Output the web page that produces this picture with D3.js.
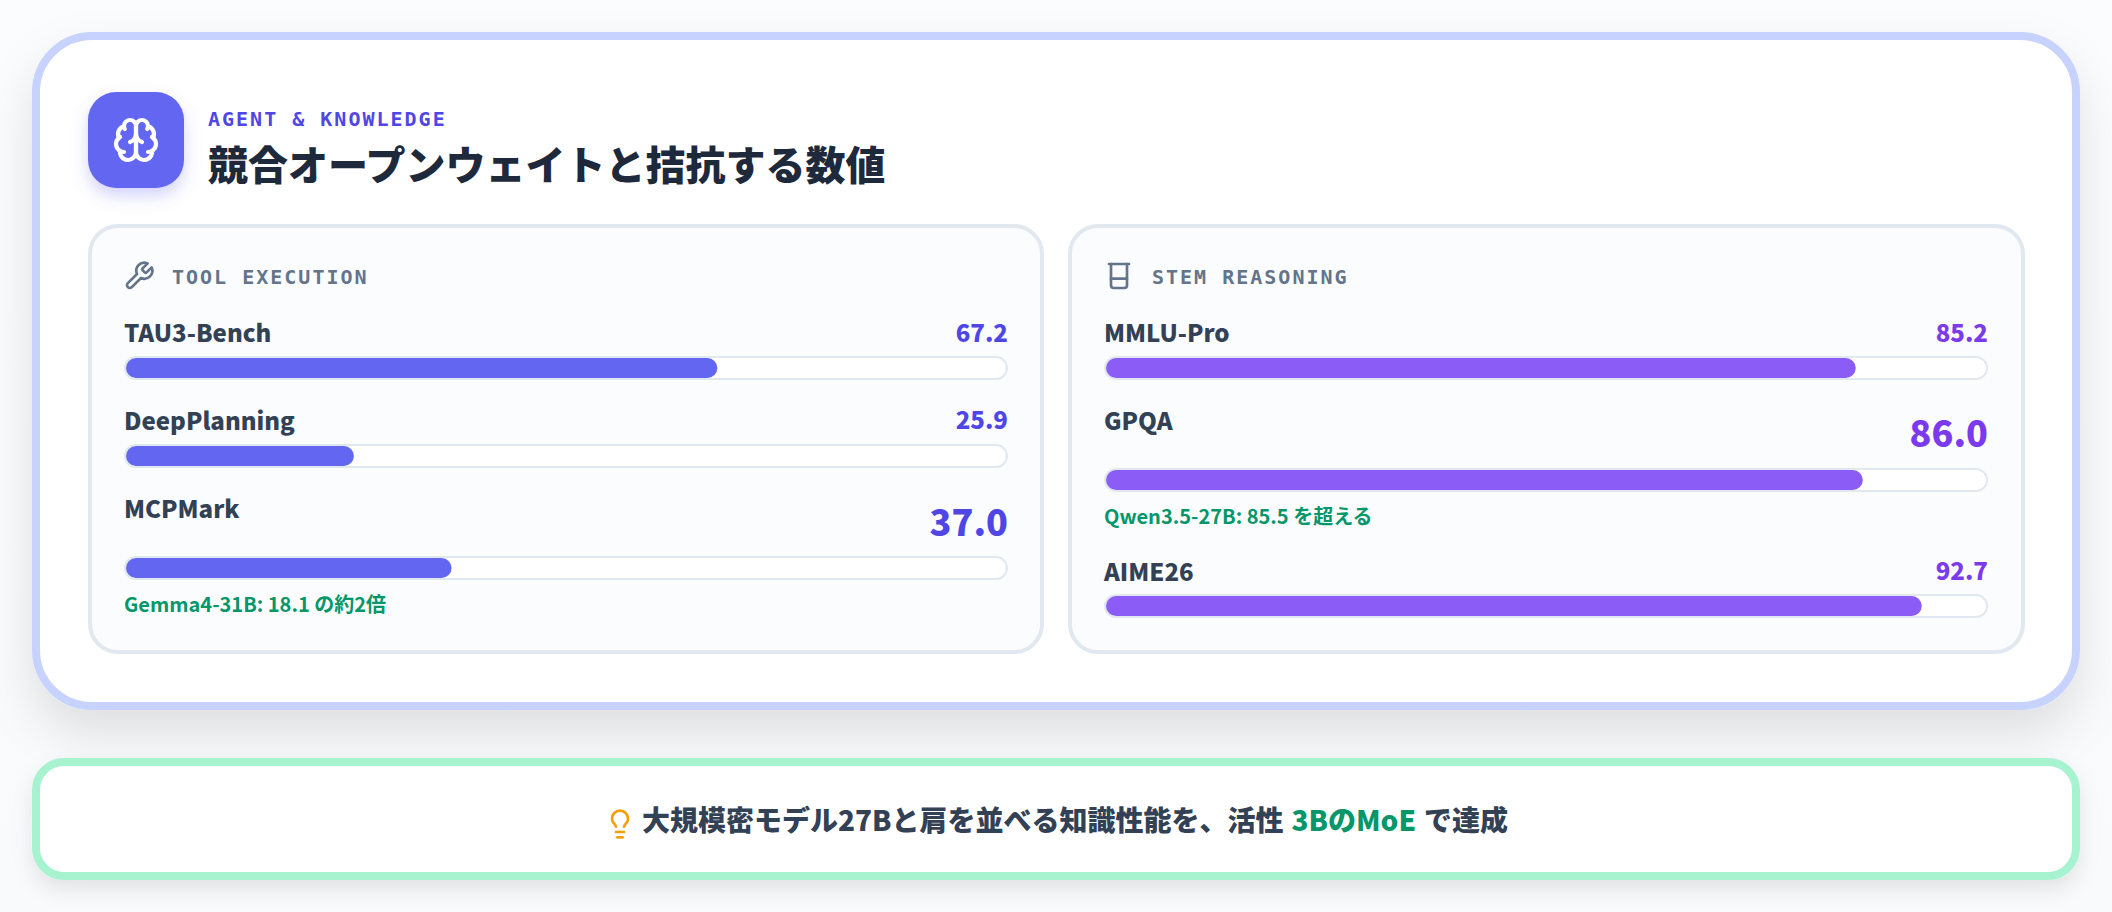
<!DOCTYPE html>
<html lang="ja">
<head>
<meta charset="utf-8">
<title>競合オープンウェイトと拮抗する数値</title>
<script src="https://cdn.jsdelivr.net/npm/d3@7/dist/d3.min.js"></script>
<style>
  html, body { margin: 0; padding: 0; background: #f8fafc; }
  svg { display: block; }
  text { font-family: "Noto Sans CJK JP", "Noto Sans", sans-serif; }
  .mono { font-family: "DejaVu Sans Mono", "Liberation Mono", monospace; font-weight: 700; letter-spacing: 2px; }
</style>
</head>
<body>
<div id="chart"></div>
<script>
// Benchmark scores per panel
const toolLabels = ["TAU3-Bench", "DeepPlanning", "MCPMark"];
const toolValues = [67.2, 25.9, 37.0];
const stemLabels = ["MMLU-Pro", "GPQA", "AIME26"];
const stemValues = [85.2, 86.0, 92.7];
const toolNotes = ["", "", "Gemma4-31B: 18.1 の約2倍"];
const stemNotes = ["", "Qwen3.5-27B: 85.5 を超える", ""];
const toolHighlight = [false, false, true];
const stemHighlight = [false, true, false];

const W = 2112, H = 912;
const svg = d3.select("#chart").append("svg").attr("width", W).attr("height", H);
const defs = svg.append("defs");

const bg = defs.append("linearGradient").attr("id", "bg").attr("x1", 0).attr("y1", 0).attr("x2", 0).attr("y2", 1);
bg.append("stop").attr("offset", 0).attr("stop-color", "#fbfcfe");
bg.append("stop").attr("offset", 1).attr("stop-color", "#f8fafc");
svg.append("rect").attr("width", W).attr("height", H).attr("fill", "url(#bg)");

function shadow(id, dy, blur, color, opacity) {
  const f = defs.append("filter").attr("id", id)
    .attr("x", "-20%").attr("y", "-30%").attr("width", "140%").attr("height", "170%");
  f.append("feDropShadow").attr("dx", 0).attr("dy", dy).attr("stdDeviation", blur)
    .attr("flood-color", color).attr("flood-opacity", opacity);
}
shadow("cardShadow", 24, 24, "#000", 0.11);
shadow("tipShadow", 10, 10, "#000", 0.09);
shadow("iconShadow", 8, 8, "#6366f1", 0.28);

// Outer cards
svg.append("rect").attr("x", 36).attr("y", 36).attr("width", 2040).attr("height", 670).attr("rx", 56)
  .attr("fill", "#fff").attr("stroke", "#c7d2fe").attr("stroke-width", 8).attr("filter", "url(#cardShadow)");
svg.append("rect").attr("x", 36).attr("y", 762).attr("width", 2040).attr("height", 114).attr("rx", 28)
  .attr("fill", "#fff").attr("stroke", "#a7f3d0").attr("stroke-width", 8).attr("filter", "url(#tipShadow)");

function icon(parent, paths, x, y, size, color, sw) {
  const g = parent.append("g").attr("transform", `translate(${x},${y}) scale(${size / 24})`)
    .attr("fill", "none").attr("stroke", color).attr("stroke-width", sw)
    .attr("stroke-linecap", "round").attr("stroke-linejoin", "round");
  paths.forEach(d => g.append("path").attr("d", d));
}

const brainPaths = [
  "M12 5a3 3 0 1 0-5.997.125 4 4 0 0 0-2.526 5.77 4 4 0 0 0 .556 6.588A4 4 0 1 0 12 18Z",
  "M12 5a3 3 0 1 1 5.997.125 4 4 0 0 1 2.526 5.77 4 4 0 0 1-.556 6.588A4 4 0 1 1 12 18Z",
  "M15 13a4.5 4.5 0 0 1-3-4 4.5 4.5 0 0 1-3 4",
  "M17.599 6.5a3 3 0 0 0 .399-1.375", "M6.003 5.125A3 3 0 0 0 6.401 6.5",
  "M3.477 10.896a4 4 0 0 1 .585-.396", "M19.938 10.5a4 4 0 0 1 .585.396",
  "M6 18a4 4 0 0 1-1.967-.516", "M19.967 17.484A4 4 0 0 1 18 18"
];
const wrenchPaths = ["M14.7 6.3a1 1 0 0 0 0 1.4l1.6 1.6a1 1 0 0 0 1.4 0l3.77-3.77a6 6 0 0 1-7.94 7.94l-6.91 6.91a2.12 2.12 0 0 1-3-3l6.91-6.91a6 6 0 0 1 7.94-7.94l-3.76 3.76z"];
const beakerPaths = ["M4.5 3h15", "M6 3v16a2 2 0 0 0 2 2h8a2 2 0 0 0 2-2V3", "M6 14h12"];
const bulbPaths = ["M15 14c.2-1 .7-1.7 1.5-2.5 1-.9 1.5-2.2 1.5-3.5A6 6 0 0 0 6 8c0 1 .2 2.2 1.5 3.5.7.7 1.3 1.5 1.5 2.5", "M9 18h6", "M10 22h4"];

// Header
svg.append("rect").attr("x", 88).attr("y", 92).attr("width", 96).attr("height", 96).attr("rx", 28)
  .attr("fill", "#6366f1").attr("filter", "url(#iconShadow)");
icon(svg, brainPaths, 112, 116, 48, "#fff", 2.1);
svg.append("text").attr("class", "mono").attr("x", 208).attr("y", 126).attr("font-size", 20)
  .attr("fill", "#4f46e5").text("AGENT & KNOWLEDGE");
svg.append("text").attr("x", 208).attr("y", 180).attr("font-size", 40).attr("font-weight", 900)
  .attr("fill", "#1e293b").text("競合オープンウェイトと拮抗する数値");

// Panels
const x = d3.scaleLinear().domain([0, 100]).range([0, 880]);

const panels = [
  { left: 90, width: 952, title: "TOOL EXECUTION", icon: wrenchPaths, iconX: 33, titleX: 82, labelX: 34, labels: toolLabels, values: toolValues, notes: toolNotes, hi: toolHighlight, fill: "#6366f1", ink: "#4f46e5",
    labelY: [342, 430, 518], valueY: [342, 429, 536], trackY: [358, 446, 558], noteY: [0, 0, 612] },
  { left: 1070, width: 953, title: "STEM REASONING", icon: beakerPaths, iconX: 33, titleX: 82, labelX: 34, labels: stemLabels, values: stemValues, notes: stemNotes, hi: stemHighlight, fill: "#8b5cf6", ink: "#7c3aed",
    labelY: [342, 430, 581], valueY: [342, 447, 580], trackY: [358, 470, 596], noteY: [0, 524, 0] }
];

panels.forEach(p => {
  const g = svg.append("g").attr("transform", `translate(${p.left},226)`);
  g.append("rect").attr("width", p.width).attr("height", 426).attr("rx", 28)
    .attr("fill", "#fafcfe").attr("stroke", "#e2e8f0").attr("stroke-width", 4);

  const ox = 36; // inner offset of the bar track from the panel's left edge
  icon(g, p.icon, p.iconX, 34, 32, "#64748b", 2);
  g.append("text").attr("class", "mono").attr("x", p.titleX).attr("y", 58).attr("font-size", 20)
    .attr("fill", "#64748b").text(p.title);

  p.labels.forEach((label, i) => {
    g.append("text").attr("x", p.labelX).attr("y", p.labelY[i] - 226).attr("font-size", 24).attr("font-weight", 900)
      .attr("fill", "#334155").text(label);
    g.append("text").attr("x", ox + 882).attr("y", p.valueY[i] - 226).attr("text-anchor", "end")
      .attr("font-size", p.hi[i] ? 36 : 24).attr("font-weight", 900).attr("fill", p.ink)
      .text(d3.format(".1f")(p.values[i]));
    const ty = p.trackY[i] - 226;
    g.append("rect").attr("x", ox - 1).attr("y", ty - 1).attr("width", 882).attr("height", 22).attr("rx", 11)
      .attr("fill", "#fff").attr("stroke", "#e2e8f0").attr("stroke-width", 2);
    g.append("rect").attr("x", ox).attr("y", ty).attr("width", x(p.values[i])).attr("height", 20).attr("rx", 10)
      .attr("fill", p.fill);
    if (p.notes[i]) {
      g.append("text").attr("x", p.labelX).attr("y", p.noteY[i] - 226).attr("font-size", 20).attr("font-weight", 700)
        .attr("fill", "#059669").text(p.notes[i]);
    }
  });
});

// Takeaway line
icon(svg, bulbPaths, 604, 808, 32, "#f59e0b", 2);
const tip = svg.append("text").attr("x", 642).attr("y", 831).attr("font-size", 28).attr("font-weight", 900).attr("fill", "#334155");
tip.append("tspan").text("大規模密モデル27Bと肩を並べる知識性能を、活性 ");
tip.append("tspan").attr("dx", 1.5).attr("fill", "#059669").text("3BのMoE");
tip.append("tspan").attr("dx", 1.5).text(" で達成");
</script>
</body>
</html>
